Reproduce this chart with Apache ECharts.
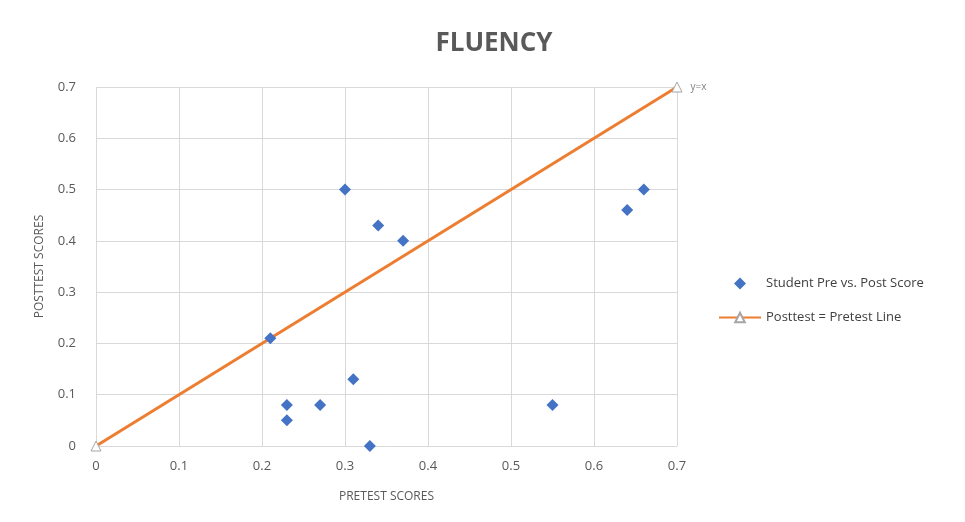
<!DOCTYPE html>
<html>
<head>
<meta charset="utf-8">
<script src="https://cdn.jsdelivr.net/npm/echarts@6/dist/echarts.min.js"></script>
<style>
html,body{margin:0;padding:0;background:#fff;}
#chart{width:965px;height:522px;}
</style>
</head>
<body>
<div id="chart"></div>
<script>
// Pretest vs. posttest fluency scores per student
const pretest  = [0.21, 0.23, 0.23, 0.27, 0.30, 0.31, 0.33, 0.34, 0.37, 0.55, 0.64, 0.66];
const posttest = [0.21, 0.08, 0.05, 0.08, 0.50, 0.13, 0.00, 0.43, 0.40, 0.08, 0.46, 0.50];
// Reference line y = x
const refLineX = [0, 0.7];
const refLineY = [0, 0.7];
const axisTicks = [0, 0.1, 0.2, 0.3, 0.4, 0.5, 0.6, 0.7];

const studentPoints = pretest.map((x, i) => [x, posttest[i]]);
const linePoints = refLineX.map((x, i) => [x, refLineY[i]]);

const font = '"Open Sans", "Noto Sans", sans-serif';
const chart = echarts.init(document.getElementById('chart'), null, {renderer: 'canvas'});

const axisCommon = {
  type: 'value',
  min: axisTicks[0],
  max: axisTicks[axisTicks.length - 1],
  interval: 0.1,
  axisLine: {show: false},
  axisTick: {show: false},
  splitLine: {show: true, lineStyle: {color: '#d9d9d9', width: 1}},
  nameTextStyle: {color: '#595959', fontSize: 12, fontFamily: font},
  axisLabel: {color: '#595959', fontSize: 13, fontFamily: font,
    formatter: v => (Math.round(v * 10) / 10).toString()}
};

chart.setOption({
  backgroundColor: '#ffffff',
  animation: false,
  title: {
    text: 'FLUENCY',
    left: 489, top: 26, textAlign: 'center',
    textStyle: {color: '#595959', fontSize: 26, fontWeight: 'bold', fontFamily: font}
  },
  grid: {left: 96, right: 288, top: 87, bottom: 76, containLabel: false},
  xAxis: Object.assign({}, axisCommon, {
    name: 'PRETEST SCORES', nameLocation: 'middle', nameGap: 45,
    axisLabel: Object.assign({}, axisCommon.axisLabel, {margin: 14})
  }),
  yAxis: Object.assign({}, axisCommon, {
    name: 'POSTTEST SCORES', nameLocation: 'middle', nameGap: 50,
    axisLabel: Object.assign({}, axisCommon.axisLabel, {margin: 20})
  }),
  legend: {
    orient: 'vertical',
    left: 713, top: 272,
    itemGap: 21,
    itemWidth: 42, itemHeight: 12,
    symbolKeepAspect: true,
    textStyle: {color: '#404040', fontSize: 13, fontFamily: font},
    data: [
      {name: 'Student Pre vs. Post Score', icon: 'path://M5,0L10,5L5,10L0,5Z', itemStyle: {color: '#4472C4', opacity: 1}},
      {name: 'Posttest = Pretest Line'}
    ]
  },
  series: [
    {
      name: 'Posttest = Pretest Line',
      type: 'line',
      data: linePoints,
      symbol: 'triangle',
      symbolSize: 10,
      showAllSymbol: true,
      lineStyle: {color: '#ED7D31', width: 3},
      itemStyle: {color: '#ffffff', borderColor: '#a6a6a6', borderWidth: 1},
      label: {
        show: true, position: 'right', distance: 8,
        color: '#808080', fontSize: 10, fontFamily: font,
        formatter: p => p.dataIndex === 1 ? 'y=x' : ''
      },
      z: 2
    },
    {
      name: 'Student Pre vs. Post Score',
      type: 'scatter',
      data: studentPoints,
      symbol: 'diamond',
      symbolSize: 12,
      itemStyle: {color: '#4472C4', opacity: 1},
      z: 3
    }
  ]
});
</script>
</body>
</html>
